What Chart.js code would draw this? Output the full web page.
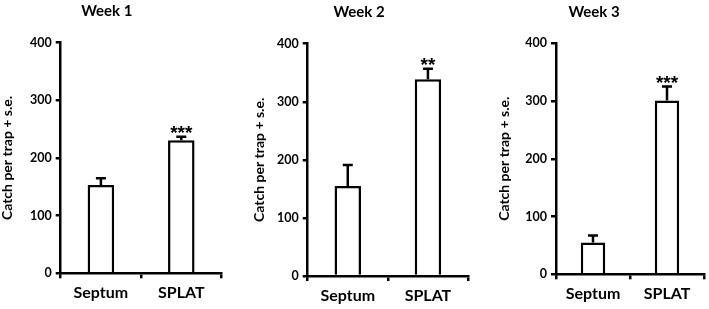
<!DOCTYPE html>
<html>
<head>
<meta charset="utf-8">
<script src="https://cdn.jsdelivr.net/npm/chart.js@4.4.0/dist/chart.umd.min.js"></script>
<style>
  html, body { margin: 0; padding: 0; background: #fff; }
  body { width: 709px; height: 309px; position: relative; overflow: hidden; }
  .panel { position: absolute; top: 0; height: 309px; }
</style>
</head>
<body>
<div class="panel" id="p1" style="left:-8px;width:243px"><canvas id="week1"></canvas></div>
<div class="panel" id="p2" style="left:250px;width:220px"><canvas id="week2"></canvas></div>
<div class="panel" id="p3" style="left:484px;width:225px"><canvas id="week3"></canvas></div>
<script>
const categories = ['Septum', 'SPLAT'];
const yTicks = [0, 100, 200, 300, 400];

const week1Means = [153, 231];
const week1SE = [12, 6];
const week1Stars = ['', '***'];

const week2Means = [155, 339];
const week2SE = [36, 18];
const week2Stars = ['', '**'];

const week3Means = [55, 301];
const week3SE = [12, 24];
const week3Stars = ['', '***'];

const FONT = 'Lato, "Open Sans", sans-serif';

// error bars + significance stars drawn on top of the bars
const errorBarPlugin = {
  id: 'errorBars',
  afterDatasetsDraw(chart, args, opts) {
    const ctx = chart.ctx;
    const meta = chart.getDatasetMeta(0);
    const y = chart.scales.y;
    meta.data.forEach((bar, i) => {
      const mean = opts.means[i];
      const top = y.getPixelForValue(mean + opts.se[i]);
      const base = y.getPixelForValue(mean);
      ctx.save();
      ctx.strokeStyle = '#000';
      ctx.lineWidth = 2.5;
      ctx.beginPath();
      ctx.moveTo(bar.x, base);
      ctx.lineTo(bar.x, top);
      ctx.moveTo(bar.x - 5, top);
      ctx.lineTo(bar.x + 5, top);
      ctx.stroke();
      if (opts.stars[i]) {
        ctx.fillStyle = '#000';
        ctx.font = 'bold 19px "Liberation Sans", Arial, sans-serif';
        ctx.textAlign = 'center';
        ctx.textBaseline = 'alphabetic';
        ctx.fillText(opts.stars[i], bar.x, top + 2.5);
      }
      ctx.restore();
    });
  }
};

function makePanel(id, title, means, se, stars, box) {
  new Chart(document.getElementById(id), {
    type: 'bar',
    data: {
      labels: categories,
      datasets: [{
        data: means,
        backgroundColor: '#fff',
        borderColor: '#000',
        borderWidth: 2.5,
        categoryPercentage: 1,
        barPercentage: 0.33
      }]
    },
    options: {
      responsive: true,
      maintainAspectRatio: false,
      animation: false,
      layout: { padding: { left: 0, right: box.padRight, top: 0, bottom: 0 } },
      plugins: {
        legend: { display: false },
        tooltip: { enabled: false },
        title: {
          display: true,
          text: title,
          color: '#000',
          font: { family: FONT, size: 15, weight: 'bold' },
          padding: { top: box.titleTop, bottom: box.titleBottom }
        },
        errorBars: { means: means, se: se, stars: stars }
      },
      scales: {
        x: {
          offset: true,
          grid: {
            offset: true,
            drawOnChartArea: false,
            color: '#000',
            lineWidth: 2.5,
            tickLength: 5
          },
          border: { color: '#000', width: 2.5 },
          ticks: {
            color: '#000',
            padding: 5,
            font: { family: FONT, size: 16, weight: 'bold' }
          },
          afterFit: scale => { scale.height = box.xHeight; }
        },
        y: {
          min: 0,
          max: 400,
          afterBuildTicks: scale => { scale.ticks = yTicks.map(v => ({ value: v })); },
          grid: {
            drawOnChartArea: false,
            color: '#000',
            lineWidth: 2.5,
            tickLength: 5
          },
          border: { color: '#000', width: 2.5 },
          ticks: {
            color: '#000',
            padding: 4,
            font: { family: FONT, size: 12.5, weight: 'bold' }
          },
          title: {
            display: true,
            text: 'Catch per trap + s.e.',
            color: '#000',
            font: { family: FONT, size: 14, weight: 'bold' },
            padding: { top: box.labelPad, bottom: 0 }
          },
          afterFit: scale => { scale.width = box.yWidth; }
        }
      }
    },
    plugins: [errorBarPlugin]
  });
}

makePanel('week1', 'Week 1', week1Means, week1SE, week1Stars,
  { padRight: 13.5, titleTop: 2, titleBottom: 22.7, xHeight: 35.7, yWidth: 68.7, labelPad: 7 });
makePanel('week2', 'Week 2', week2Means, week2SE, week2Stars,
  { padRight: 2, titleTop: 3, titleBottom: 22.7, xHeight: 33, yWidth: 57.7, labelPad: 1 });
makePanel('week3', 'Week 3', week3Means, week3SE, week3Stars,
  { padRight: 5, titleTop: 3, titleBottom: 22.3, xHeight: 34.7, yWidth: 72, labelPad: 12 });
</script>
</body>
</html>
